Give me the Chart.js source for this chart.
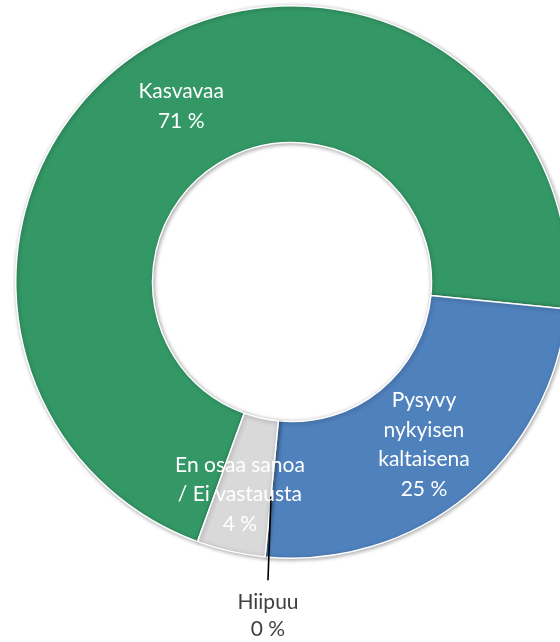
<!DOCTYPE html>
<html>
<head>
<meta charset="utf-8">
<script src="https://cdn.jsdelivr.net/npm/chart.js@4"></script>
<style>
  html, body { margin: 0; padding: 0; background: #fff; overflow: hidden; }
  #wrap { position: absolute; left: 0; top: 0; width: 560px; height: 642px; overflow: hidden; }
  #myChart { position: absolute; left: 0; top: 0; }
</style>
</head>
<body>
<div id="wrap">
  <canvas id="myChart" width="584" height="642"></canvas>
</div>
<script>
// kategoriat ja osuudet (%)
const categories = ['Kasvavaa', ['Pysyvy', 'nykyisen', 'kaltaisena'], 'Hiipuu', ['En osaa sanoa', '/ Ei vastausta']];
const shares = [71, 25, 0, 4];
const colors = ['#349866', '#4f81bd', '#a5a5a5', '#d9d9d9'];

const fontFamily = 'Lato, "Open Sans", sans-serif';
// pieni siirto tekstille sektorin keskeltä (px)
const labelShift = [[0, 0], [0, 2], [0, 0], [-6, 10]];

// varjo renkaan ympärille
const ringShadow = {
  id: 'ringShadow',
  beforeDatasetsDraw(chart) {
    const ctx = chart.ctx;
    ctx.save();
    ctx.shadowColor = 'rgba(0,0,0,0.35)';
    ctx.shadowBlur = 4;
    ctx.shadowOffsetX = 1;
    ctx.shadowOffsetY = 1;
  },
  afterDatasetsDraw(chart) {
    chart.ctx.restore();
  }
};

// arvojen tekstit sektoreiden päälle
const sliceLabels = {
  id: 'sliceLabels',
  afterDatasetsDraw(chart) {
    const ctx = chart.ctx;
    const meta = chart.getDatasetMeta(0);
    const lineH = 29.5;
    ctx.save();
    ctx.font = '21px ' + fontFamily;
    ctx.textAlign = 'center';
    ctx.textBaseline = 'middle';
    meta.data.forEach((arc, i) => {
      const name = categories[i];
      const lines = (Array.isArray(name) ? name : [name]).concat(shares[i] + ' %');
      const p = arc.getProps(['x', 'y', 'startAngle', 'endAngle', 'innerRadius', 'outerRadius'], true);
      if (shares[i] === 0) {
        // nolla-arvo: selitysviiva ulkopuolelle
        const a = p.startAngle;
        const r0 = p.outerRadius * 0.78;
        const sx = p.x + r0 * Math.cos(a);
        const sy = p.y + r0 * Math.sin(a);
        const ex = sx - 3;
        const ey = p.y + p.outerRadius + 22;
        ctx.strokeStyle = '#000';
        ctx.lineWidth = 1.6;
        ctx.beginPath();
        ctx.moveTo(sx, sy);
        ctx.lineTo(ex, ey);
        ctx.stroke();
        ctx.fillStyle = '#404040';
        lines.forEach((t, k) => ctx.fillText(t, ex, ey + 22 + k * 27));
        return;
      }
      const c = arc.getCenterPoint();
      const cx = c.x + labelShift[i][0];
      const top = c.y + labelShift[i][1] - (lines.length - 1) * lineH / 2;
      ctx.fillStyle = '#fff';
      lines.forEach((t, k) => ctx.fillText(t, cx, top + k * lineH));
    });
    ctx.restore();
  }
};

const config = {
  type: 'doughnut',
  data: {
    labels: categories,
    datasets: [{
      data: shares,
      backgroundColor: colors,
      borderColor: '#ffffff',
      borderWidth: 1.5
    }]
  },
  options: {
    responsive: false,
    animation: false,
    cutout: '50.5%',
    rotation: 200,
    layout: {
      padding: { top: 5, bottom: 83, left: 15, right: 15 }
    },
    plugins: {
      legend: { display: false },
      tooltip: { enabled: false }
    }
  },
  plugins: [ringShadow, sliceLabels]
};

const ctx = document.getElementById('myChart').getContext('2d');
let myChart = new Chart(ctx, config);
</script>
</body>
</html>
